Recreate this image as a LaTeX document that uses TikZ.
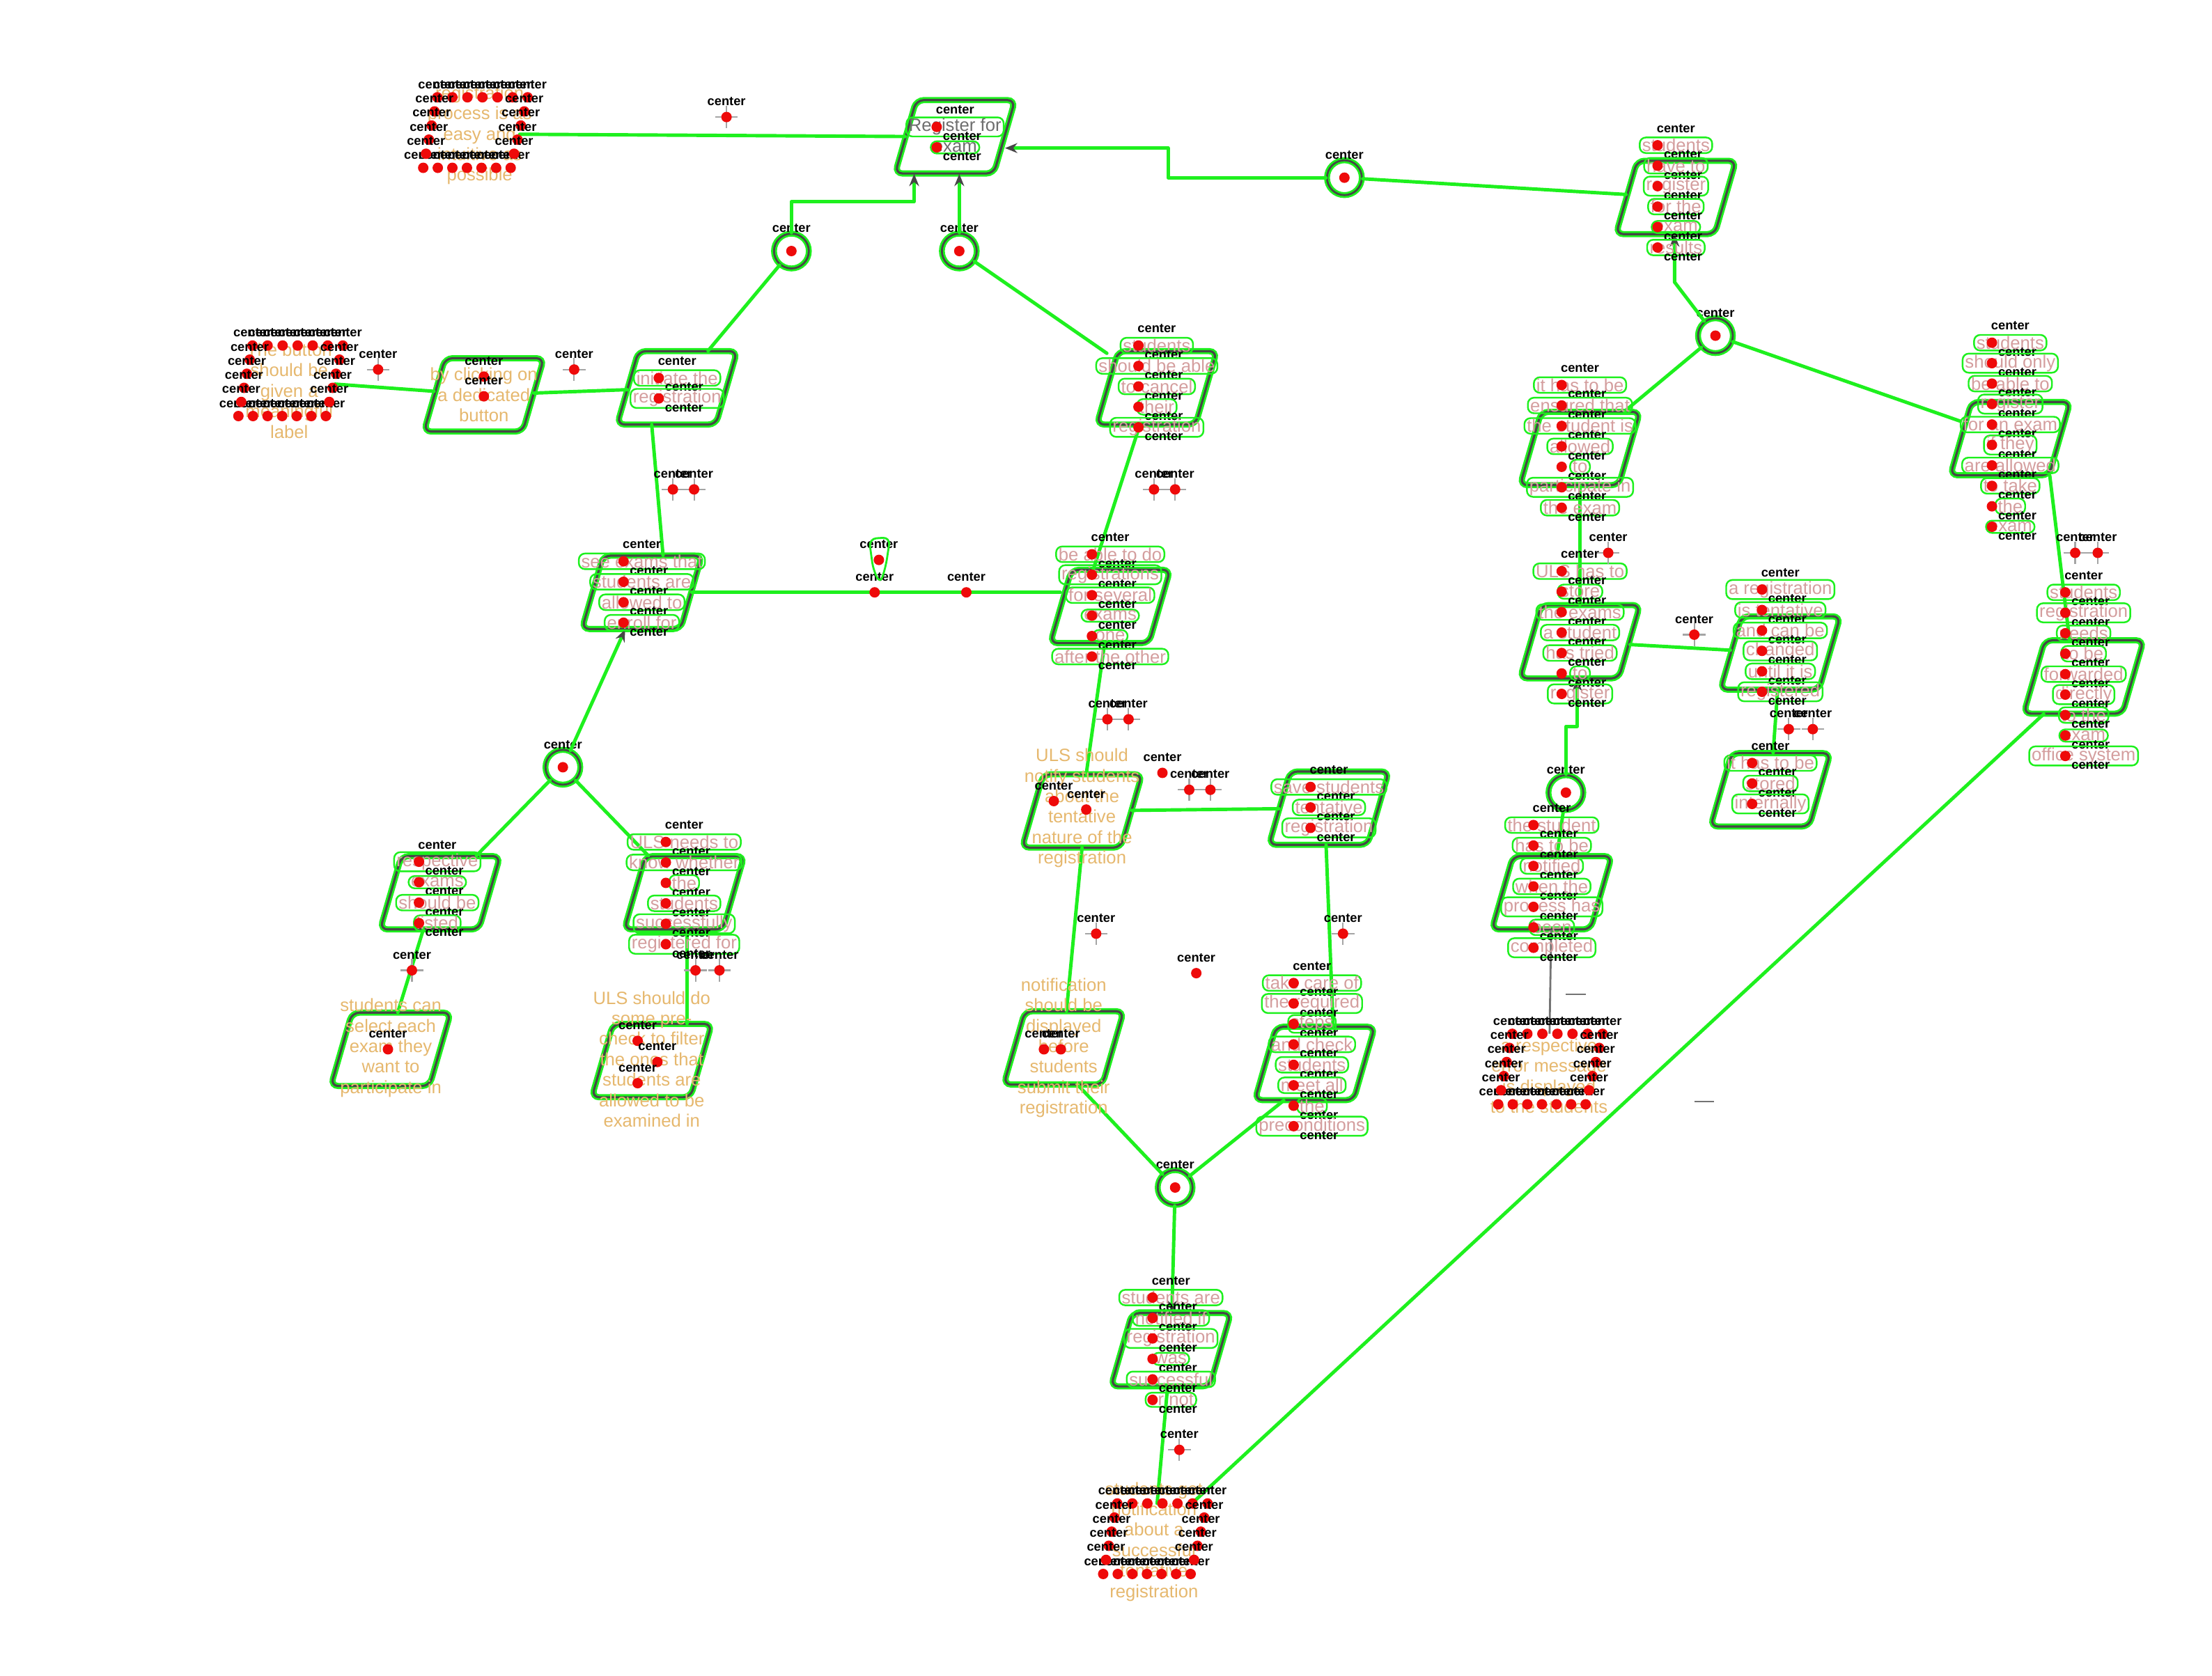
\documentclass[tikz,border=0pt]{standalone}
\usepackage{fontspec}
\setmainfont{Liberation Sans}
\usetikzlibrary{arrows.meta,calc}

\definecolor{glow}{RGB}{30,240,30}
\definecolor{edge}{RGB}{70,70,70}
\definecolor{ochre}{RGB}{230,184,110}
\definecolor{rose}{RGB}{212,158,158}
\definecolor{reddot}{RGB}{238,10,10}
\definecolor{crossgray}{RGB}{165,165,165}
\definecolor{slate}{RGB}{110,110,110}

\newcommand\lblfont{\fontsize{5.2}{5.2}\selectfont\bfseries}
\newcommand\txtfont{\fontsize{7.3}{8.36}\selectfont}

% slanted process box: named anchor rectangle plus the drawn outline
\newcommand\pbox[3]{%
  \node[anchorbox] (#1) at (#2,#3) {};
  \draw[boxline] (#2-42.5,#3+26) -- (#2+27.5,#3+26) -- (#2+42.5,#3-26)
    -- (#2-27.5,#3-26) -- cycle;
}
% red dot with its "center" tag
\newcommand\redmark[3]{%
  \fill[reddot] (#2,#3) circle (0.075cm);
  \node[ctr] (#1) at (#2,#3-11) {center};
}
% grey cross hair with dot and tag
\newcommand\crossmk[3]{%
  \draw[crossgray, line width=0.6pt] (#2-8,#3) -- (#2+8,#3) (#2,#3-8) -- (#2,#3+8);
  \redmark{#1}{#2}{#3}%
}
% junction circle
\newcommand\joinpt[3]{%
  \node[junc] (#1) at (#2,#3) {};
  \fill[reddot] (#2,#3) circle (0.075cm);
  \node[ctr] (#1-c) at (#2,#3-16) {center};
}
% outlined text lines inside a box, one tag per line
\newcommand\linetext[5]{%
  \node[ctr] (#1-top) at (#2,#3-12) {center};
  \foreach \ptl [count=\i] in {#5} {
    \node[pline, text=#4] (#1-l\i) at (#2, #3+14.5*\i-14.5) {\ptl};
    \fill[reddot] (#2-13, #3+14.5*\i-14.5) circle (0.075cm);
    \node[ctr] (#1-c\i) at (#2+5, #3+14.5*\i-8) {center};
  }%
}
% ring of dots around a free text
\newcommand\dotring[3]{%
  \coordinate (#1-tl) at (#2-28,#3-26);
  \coordinate (#1-tr) at (#2+36,#3-26);
  \coordinate (#1-br) at (#2+24,#3+24);
  \coordinate (#1-bl) at (#2-38,#3+24);
  \foreach \k in {0,...,6} {
    \fill[reddot] ($(#1-tl)!\k/6!(#1-tr)$) circle (0.075cm);
    \node[ctr] (#1-t\k) at ($(#1-tl)!\k/6!(#1-tr)+(0,-9)$) {center};
    \fill[reddot] ($(#1-bl)!\k/6!(#1-br)$) circle (0.075cm);
    \node[ctr] (#1-b\k) at ($(#1-bl)!\k/6!(#1-br)+(0,-9)$) {center};
  }
  \foreach \k in {1,...,4} {
    \fill[reddot] ($(#1-tl)!\k/5!(#1-bl)$) circle (0.075cm);
    \node[ctr] (#1-w\k) at ($(#1-tl)!\k/5!(#1-bl)+(0,-9)$) {center};
    \fill[reddot] ($(#1-tr)!\k/5!(#1-br)$) circle (0.075cm);
    \node[ctr] (#1-e\k) at ($(#1-tr)!\k/5!(#1-br)+(0,-9)$) {center};
  }
}

\begin{document}
\begin{tikzpicture}[x=0.020255cm, y=-0.020255cm,
  anchorbox/.style={rectangle, minimum width=1.42cm, minimum height=1.05cm, inner sep=0pt},
  boxline/.style={rounded corners=3pt, draw=glow, line width=0.8pt,
    double=edge, double distance=0.9pt},
  junc/.style={circle, minimum size=0.5cm, inner sep=0pt, draw=glow, fill=white,
    line width=0.8pt, double=edge, double distance=0.8pt},
  cloudbox/.style={rectangle, minimum width=1.3cm, minimum height=1.0cm, inner sep=0pt},
  conn/.style={draw=glow, line width=1.4pt, line cap=round, line join=round},
  arrowend/.style={-{Stealth[length=5pt,width=4pt,color=edge]}},
  thinline/.style={draw=crossgray!70!black, line width=0.8pt},
  ctr/.style={font=\lblfont, text=black, inner sep=0pt},
  otext/.style={font=\txtfont, text=ochre, align=center, inner sep=0pt},
  pline/.style={font=\txtfont, draw=glow, line width=0.7pt, rounded corners=2.5pt,
    inner xsep=1pt, inner ysep=0.5pt}]

\path[fill=white, use as bounding box] (0,0) rectangle (1568,1188);

% ---- process boxes
\pbox{p1}{677}{97}
\pbox{p2}{343}{280}
\pbox{p3}{480}{275}
\pbox{p4}{820}{275}
\pbox{p5}{455}{420}
\pbox{p6}{787}{430}
\pbox{p7}{767}{575}
\pbox{p8}{942}{573}
\pbox{p9}{312}{633}
\pbox{p10}{485}{633}
\pbox{p11}{277}{744}
\pbox{p12}{462}{752}
\pbox{p13}{754}{743}
\pbox{p14}{932}{754}
\pbox{p15}{830}{957}
\pbox{p16}{1120}{318}
\pbox{p17}{1425}{311}
\pbox{p18}{1120}{455}
\pbox{p19}{1262}{463}
\pbox{p20}{1255}{560}
\pbox{p21}{1100}{633}
\pbox{p22}{1477}{480}
\pbox{p23}{1188}{140}

% ---- free texts (no frame)
\node[cloudbox] (ca) at (336,95) {};
\node[cloudbox] (cb) at (205,270) {};
\node[cloudbox] (cc) at (818,1091) {};
\node[cloudbox] (cd) at (1098,758) {};

% ---- junctions
\joinpt{j1}{561}{178}
\joinpt{j2}{680}{178}
\joinpt{j3}{953}{126}
\joinpt{j4}{1216}{238}
\joinpt{j5}{399}{544}
\joinpt{j6}{833}{842}
\joinpt{j7}{1110}{562}

% ---- connectors
\draw[conn] (ca) -- (p1);
\coordinate (b1) at (648,143);
\draw[conn, arrowend] (j1.north) |- (b1) -- (b1 |- p1.south);
\draw[conn, arrowend] (j2.north) -- (j2.north |- p1.south);
\coordinate (b3a) at (828,126);
\coordinate (b3b) at (828,105);
\draw[conn, arrowend] (j3.west) -- (b3a) -- (b3b) -- (b3b -| p1.east);
\draw[conn] (p23) -- (j3);
\coordinate (b4) at (1187,200);
\draw[conn, arrowend] (j4) -- (b4) -- (b4 |- p23.south);
\draw[conn] (p3) -- (j1);
\draw[conn] (p4) -- (j2);
\draw[conn] (cb) -- (p2);
\draw[conn] (p2) -- (p3);
\draw[conn] ($(p3.south)+(-18,0)$) -- ($(p5.north)+(15,0)$);
\draw[conn] ($(p4.south)+(-12,0)$) -- ($(p6.north)+(-12,0)$);
\draw[conn] (p5.east) -- (p5.east -| p6.west);
\draw[conn, arrowend] (j5) -- (p5);
\draw[conn] (j5) -- (p9);
\draw[conn] (j5) -- (p10);
\draw[conn] ($(p9.south)+(-12,0)$) -- ($(p11.north)+(5,0)$);
\draw[conn] ($(p10.south)+(2,0)$) -- ($(p12.north)+(25,0)$);
\draw[conn] ($(p6.south)+(-4,0)$) -- ($(p7.north)+(3,0)$);
\draw[conn] (p7) -- (p8);
\draw[conn] (p7.south) -- ($(p13.north)+(2,0)$);
\draw[conn] ($(p8.south)+(-2,0)$) -- ($(p14.north)+(13,0)$);
\draw[conn] ($(p13.south)+(10,0)$) -- (j6);
\draw[conn] ($(p14.south)+(-22,0)$) -- (j6);
\draw[conn, arrowend] (j6) -- (p15);
\draw[conn] (p15) -- (cc);
\draw[conn] (cc) -- (p22);
\draw[conn] (j4) -- (p16);
\draw[conn] (j4) -- (p17);
\draw[conn] ($(p17.south)+(28,0)$) -- ($(p22.north)+(-10,0)$);
\draw[conn] (p16) -- (p18);
\coordinate (b7a) at (1110,515);
\coordinate (b7b) at (1118,515);
\draw[conn, arrowend] (j7.north) -- (b7a) -- (b7b) -- (b7b |- p18.south);
\draw[conn] (p18) -- (p19);
\draw[conn] (p19) -- (p20);
\draw[conn] (j7) -- (p21);
\draw[thinline] (p21) -- (cd);
\draw[thinline] (1110,705) -- (1124,705);
\draw[thinline] (1201,781) -- (1215,781);

% ---- plain texts
\node[otext] (p2t) at (343,280) {by clicking on\\a dedicated\\button};
\node[otext] (p7t) at (767,573) {ULS should\\notify students\\about the\\tentative\\nature of the\\registration};
\node[otext] (p11t) at (277,743) {students can\\select each\\exam they\\want to\\participate in};
\node[otext] (p12t) at (462,751) {ULS should do\\some pre-\\check to filter\\the ones that\\students are\\allowed to be\\examined in};
\node[otext] (p13t) at (754,743) {notification\\should be\\displayed\\before\\students\\submit their\\registration};
\node[otext] (cat) at (340,96) {registration\\process is as\\easy and\\intuitive as\\possible};
\node[otext] (cbt) at (205,277) {The button\\should be\\given a\\meaningful\\label};
\node[otext] (cct) at (818,1093) {students get\\notification\\about a\\successful\\tentative\\registration};
\node[otext] (cdt) at (1098,763) {a respective\\error message\\is displayed\\to the students};

% ---- outlined texts
\linetext{p1t}{677}{90}{slate}{Register for,exam}
\linetext{p3t}{480}{268}{rose}{initiate the,registration}
\linetext{p4t}{820}{245}{rose}{students,should be able,to cancel,their,registration}
\linetext{p5t}{455}{398}{rose}{see exams that,students are,allowed to,enroll for}
\linetext{p6t}{787}{393}{rose}{be able to do,registrations,for several,exams,one,after the other}
\linetext{p8t}{942}{558}{rose}{save students,tentative,registration}
\linetext{p9t}{310}{611}{rose}{respective,exams,should be,listed}
\linetext{p10t}{485}{597}{rose}{ULS needs to,know whether,the,students,successfully,registered for}
\linetext{p14t}{930}{697}{rose}{take care of,the required,steps,and check,students,meet all,the,preconditions}
\linetext{p15t}{830}{920}{rose}{students are,notified if,registration,was,successful,or not}
\linetext{p16t}{1120}{273}{rose}{it has to be,ensured that,the student is,allowed,to,participate in,the exam}
\linetext{p17t}{1425}{243}{rose}{students,should only,be able to,register,for an exam,if they,are allowed,to take,the,exam}
\linetext{p18t}{1120}{405}{rose}{ULS has to,store,the exams,a student,has tried,to,register}
\linetext{p19t}{1262}{418}{rose}{a registration,is tentative,and can be,changed,until it is,registered}
\linetext{p20t}{1255}{541}{rose}{it has to be,stored,internally}
\linetext{p21t}{1100}{585}{rose}{the student,has to be,notified,when the,process has,been,completed}
\linetext{p22t}{1477}{420}{rose}{students,registration,needs,to be,forwarded,directly,to the,exam,office system}
\linetext{p23t}{1188}{103}{rose}{students,have to,register,for the,exam,results}

% ---- dot rings
\dotring{car}{338}{95}
\dotring{cbr}{207}{271}
\dotring{ccr}{820}{1092}
\dotring{cdr}{1100}{759}

% ---- cross hairs
\crossmk{x1}{515}{83}
\crossmk{x2}{268}{262}
\crossmk{x3}{407}{262}
\crossmk{x4}{477}{347}
\crossmk{x5}{492}{347}
\crossmk{x6}{818}{347}
\crossmk{x7}{833}{347}
\crossmk{x8}{1140}{392}
\crossmk{x9}{1201}{450}
\crossmk{x10}{1471}{392}
\crossmk{x11}{1487}{392}
\crossmk{x12}{785}{510}
\crossmk{x13}{800}{510}
\crossmk{x14}{843}{560}
\crossmk{x15}{858}{560}
\crossmk{x16}{292}{688}
\crossmk{x17}{493}{688}
\crossmk{x18}{510}{688}
\crossmk{x19}{777}{662}
\crossmk{x20}{952}{662}
\crossmk{x21}{836}{1028}
\crossmk{x22}{1268}{517}
\crossmk{x23}{1285}{517}

% ---- single dots
\redmark{d1}{824}{548}
\redmark{d2}{848}{690}
\redmark{d3}{685}{420}
\redmark{d4}{620}{420}
\redmark{d5}{623}{397}
\draw[glow, line width=0.8pt, rounded corners=3pt] (616,382) -- (631,381) -- (628,401) -- (624,414) -- (619,404) -- cycle;

% ---- dots inside plain-text boxes
\redmark{p2m1}{343}{267}
\redmark{p2m2}{343}{281}
\redmark{p7m1}{747}{568}
\redmark{p7m2}{770}{574}
\redmark{p11m}{275}{744}
\redmark{p12m1}{452}{738}
\redmark{p12m2}{466}{753}
\redmark{p12m3}{452}{768}
\redmark{p13m1}{740}{744}
\redmark{p13m2}{752}{744}

\end{tikzpicture}
\end{document}
